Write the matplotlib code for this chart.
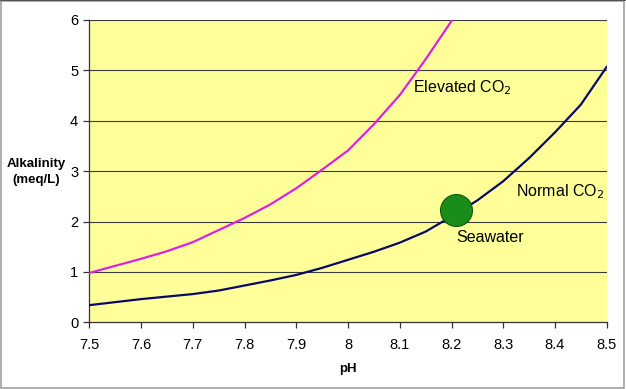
import matplotlib
matplotlib.use("Agg")
import matplotlib.pyplot as plt
from matplotlib.patches import Rectangle

plt.rcParams['font.family'] = ['Liberation Sans', 'DejaVu Sans']

ph_normal = [7.50, 7.55, 7.60, 7.65, 7.70, 7.75, 7.80, 7.85, 7.90, 7.95, 8.00,
             8.05, 8.10, 8.15, 8.20, 8.25, 8.30, 8.35, 8.40, 8.45, 8.50]
alk_normal = [0.34, 0.40, 0.46, 0.51, 0.56, 0.63, 0.73, 0.83, 0.94, 1.08, 1.24,
              1.40, 1.58, 1.80, 2.10, 2.42, 2.80, 3.26, 3.77, 4.32, 5.07]

ph_elevated = [7.50, 7.55, 7.60, 7.65, 7.70, 7.75, 7.80, 7.85, 7.90, 7.95, 8.00,
               8.05, 8.10, 8.15, 8.20]
alk_elevated = [0.98, 1.12, 1.26, 1.41, 1.59, 1.83, 2.07, 2.34, 2.66, 3.03, 3.41,
                3.93, 4.51, 5.22, 5.98]

seawater_ph = [8.209]
seawater_alk = [2.23]

x_ticks = [7.5, 7.6, 7.7, 7.8, 7.9, 8.0, 8.1, 8.2, 8.3, 8.4, 8.5]
x_labels = ['7.5', '7.6', '7.7', '7.8', '7.9', '8', '8.1', '8.2', '8.3', '8.4', '8.5']
y_ticks = [0, 1, 2, 3, 4, 5, 6]

fig = plt.figure(figsize=(6.26, 3.89), dpi=100)
fig.patch.set_facecolor('white')
ax = fig.add_axes([0.1427, 0.1715, 0.9692 - 0.1427, 0.9486 - 0.1715])
ax.set_facecolor('#ffff99')

for y in y_ticks[1:]:
    ax.axhline(y, color='#3a3a3a', lw=0.8, zorder=1)

ax.plot(ph_elevated, alk_elevated, color='#e020e0', lw=1.6, zorder=3,
        solid_joinstyle='round')
ax.plot(ph_normal, alk_normal, color='#0a0a66', lw=1.6, zorder=3,
        solid_joinstyle='round')
ax.plot(seawater_ph, seawater_alk, 'o', ms=23, color='#1a8c1a', mec='#0d5a0d',
        mew=0.8, zorder=4)

ax.text(8.126, 4.65, 'Elevated CO$_2$', fontsize=11.5, va='center', ha='left', zorder=5)
ax.text(8.325, 2.59, 'Normal CO$_2$', fontsize=11.5, va='center', ha='left', zorder=5)
ax.text(8.209, 1.69, 'Seawater', fontsize=11.5, va='center', ha='left', zorder=5)

ax.set_xlim(7.5, 8.5)
ax.set_ylim(0, 6)
ax.set_xticks(x_ticks)
ax.set_xticklabels(x_labels)
ax.set_yticks(y_ticks)
for s in ['top', 'right']:
    ax.spines[s].set_visible(False)
for s in ['left', 'bottom']:
    ax.spines[s].set_color('#333333')
    ax.spines[s].set_linewidth(0.9)
ax.tick_params(axis='both', direction='out', length=4, width=0.9, color='#333333',
               labelsize=10.5)
ax.tick_params(axis='x', pad=7)
ax.tick_params(axis='y', pad=4)

ax.set_xlabel('pH', fontsize=9.5, fontweight='bold', labelpad=8)
fig.text(36 / 626, 1 - 172 / 389, 'Alkalinity\n(meq/L)', fontsize=9.5, fontweight='bold',
         ha='center', va='center', linespacing=1.5)

fig.add_artist(Rectangle((0.001, 0.003), 0.996, 0.995, transform=fig.transFigure,
                         fill=False, edgecolor='#a0a0a0', lw=1.2))
fig.add_artist(plt.Line2D([0, 1], [0.999, 0.999], transform=fig.transFigure,
                          color='#404040', lw=1.2))

fig.savefig('out.png', dpi=100)
